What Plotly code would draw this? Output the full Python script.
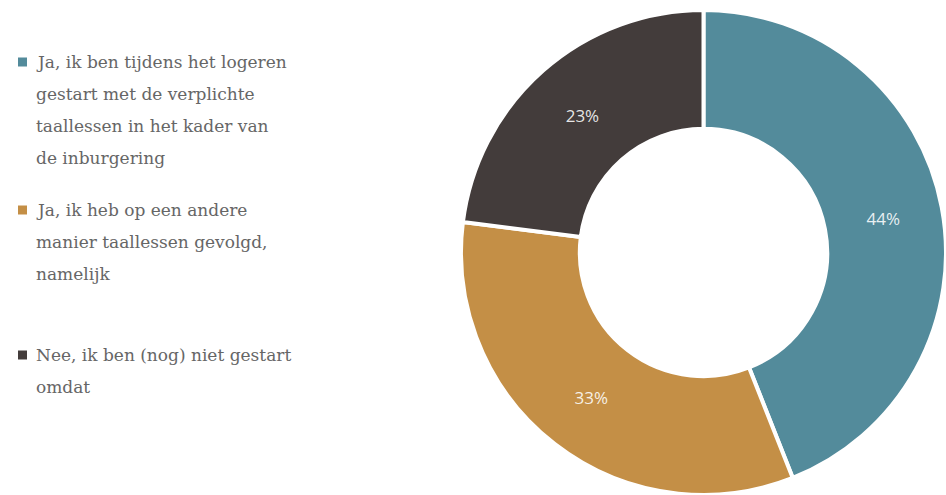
import plotly.graph_objects as go

# Survey answers: did the respondent start language lessons?
categories = [
    "Ja, ik ben tijdens het logeren gestart met de verplichte taallessen in het kader van de inburgering",
    "Ja, ik heb op een andere manier taallessen gevolgd, namelijk",
    "Nee, ik ben (nog) niet gestart omdat",
]
# Legend text as it wraps on screen
legend_lines = [
    ["Ja, ik ben tijdens het logeren", "gestart met de verplichte", "taallessen in het kader van", "de inburgering"],
    ["Ja, ik heb op een andere", "manier taallessen gevolgd,", "namelijk"],
    ["Nee, ik ben (nog) niet gestart", "omdat"],
]
shares = [44, 33, 23]
colors = ["#538b9b", "#c48f46", "#433c3b"]

W, H = 946, 495
TOP = 10
plot_h = H - TOP


def py(y_px):
    """Convert a pixel row to paper coordinates."""
    return (H - y_px) / plot_h


fig = go.Figure(
    go.Pie(
        labels=categories,
        values=shares,
        sort=False,
        direction="clockwise",
        rotation=0,
        hole=0.51,
        marker=dict(colors=colors, line=dict(color="white", width=4)),
        texttemplate="%{percent:.0%}",
        textposition="inside",
        insidetextorientation="horizontal",
        textfont=dict(family="Open Sans", size=17, color="rgba(255,255,255,0.88)"),
        domain=dict(x=[461 / W, 1], y=[0, 1]),
        showlegend=False,
        hoverinfo="label+percent",
    )
)

# Hand-built legend: a square swatch plus wrapped text lines
line_gap = 32
first_rows = [62, 210, 355]
for lines, color, y0 in zip(legend_lines, colors, first_rows):
    fig.add_shape(
        type="rect",
        xref="paper", yref="paper",
        x0=18 / W, x1=27 / W,
        y0=py(y0 + 4.5), y1=py(y0 - 4.5),
        fillcolor=color, line=dict(width=0),
    )
    for i, txt in enumerate(lines):
        fig.add_annotation(
            text=txt,
            xref="paper", yref="paper",
            x=34 / W, y=py(y0 + i * line_gap),
            xanchor="left", yanchor="middle",
            showarrow=False,
            font=dict(family="DejaVu Serif", size=17, color="#666666"),
        )

fig.update_layout(
    width=W,
    height=H,
    margin=dict(l=0, r=0, t=TOP, b=0),
    paper_bgcolor="white",
    plot_bgcolor="white",
)

fig.write_html("out.html")
